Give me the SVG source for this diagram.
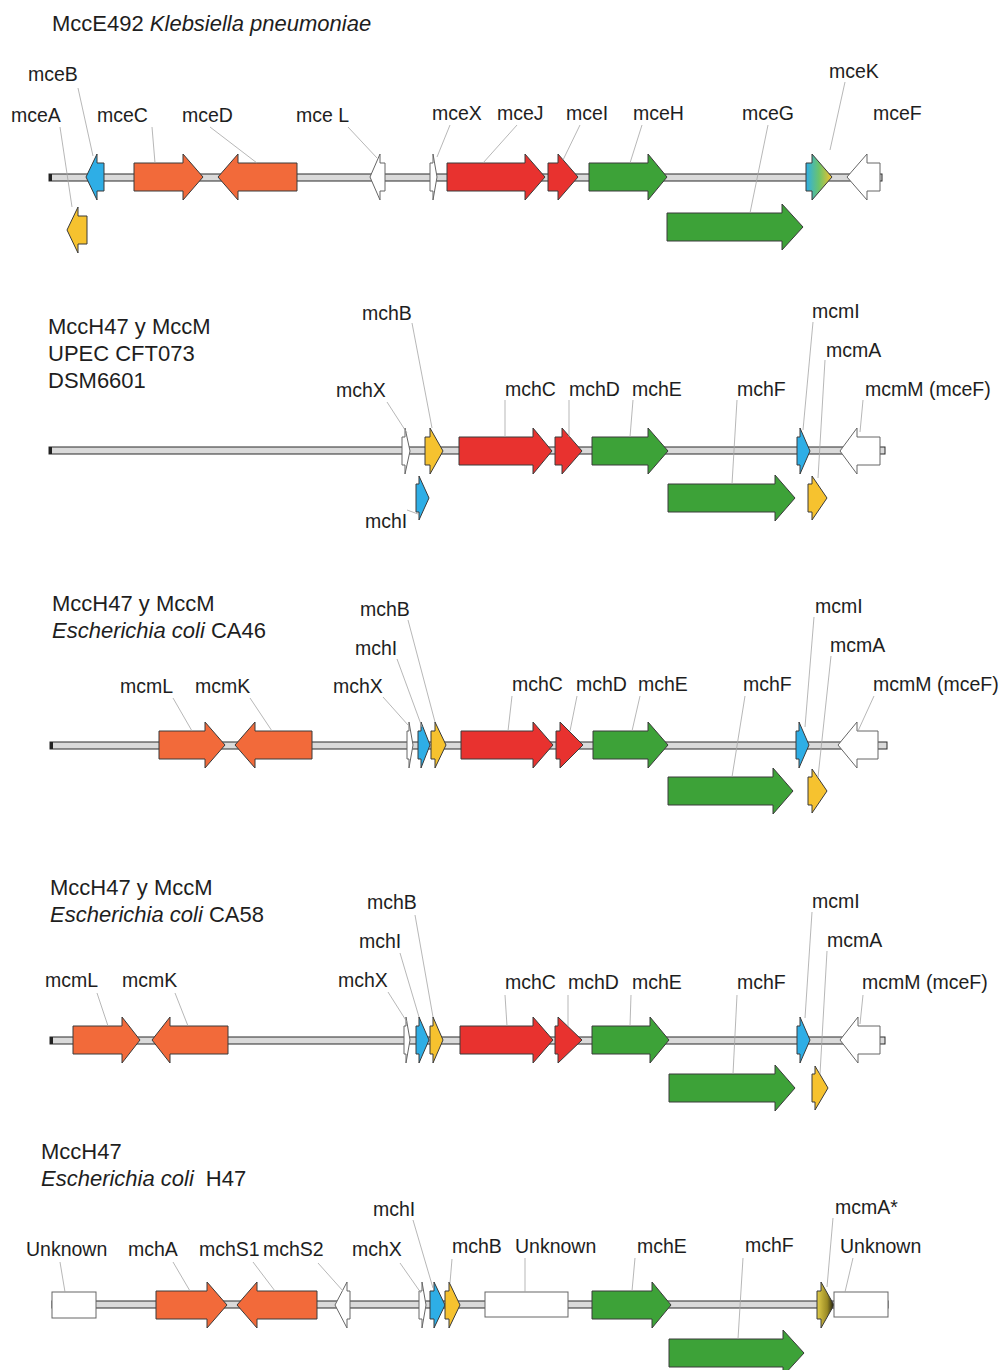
<svg xmlns="http://www.w3.org/2000/svg" width="1002" height="1370" viewBox="0 0 1002 1370">
<style>
text{font-family:"Liberation Sans",Arial,sans-serif;fill:#1e1e1e}
.t{font-size:22px}
.l{font-size:19.5px}
.bb{fill:#dadada;stroke:#2a2a2a;stroke-width:1}
.g{stroke:#3a3a3a;stroke-width:1;stroke-linejoin:miter}
.bl{fill:#2eaee6}.or{fill:#f26a3a}.rd{fill:#e8322f}.gr{fill:#3da238}.ye{fill:#f6c22f}.wh{fill:#fff;stroke:#666}
.ld{stroke:#a5a5a5;stroke-width:0.8;fill:none}
</style>
<defs>
<linearGradient id="gK" x1="0" y1="0" x2="1" y2="0"><stop offset="0" stop-color="#2eaee6"/><stop offset="0.5" stop-color="#6cc46a"/><stop offset="1" stop-color="#f4c02c"/></linearGradient>
<linearGradient id="gA" x1="0" y1="0" x2="1" y2="0"><stop offset="0" stop-color="#e0cc4a"/><stop offset="0.6" stop-color="#9a8a24"/><stop offset="1" stop-color="#1a1a10"/></linearGradient>
</defs>

<!-- Panel 1 -->
<g id="title1"><text class="t" x="52" y="31">MccE492 <tspan font-style="italic">Klebsiella pneumoniae</tspan></text></g>
<g id="backbone1"><rect class="bb" x="49" y="174" width="833" height="7"/><rect x="49" y="174" width="3" height="7" fill="#222"/></g>
<g id="mceB"><polygon class="g bl" points="104,163 97,163 97,154 86,177 97,200 97,191 104,191"/><text class="l" x="28" y="81">mceB</text></g>
<g id="mceA"><polygon class="g ye" points="87,216 78,216 78,207 67,230 78,253 78,244 87,244"/><text class="l" x="11" y="122">mceA</text></g>
<g id="mceC"><polygon class="g or" points="134,163 183,163 183,154 203,177 183,200 183,191 134,191"/><text class="l" x="97" y="122">mceC</text></g>
<g id="mceD"><polygon class="g or" points="297,163 238,163 238,154 218,177 238,200 238,191 297,191"/><text class="l" x="182" y="122">mceD</text></g>
<g id="mceL"><polygon class="g wh" points="385,163 380,163 380,154 370,177 380,200 380,191 385,191"/><text class="l" x="296" y="122">mce L</text></g>
<g id="mceX"><polygon class="g wh" points="430,163 433,163 433,154 437,177 433,200 433,191 430,191"/><text class="l" x="432" y="120">mceX</text></g>
<g id="mceJ"><polygon class="g rd" points="447,163 525,163 525,154 545,177 525,200 525,191 447,191"/><text class="l" x="497" y="120">mceJ</text></g>
<g id="mceI"><polygon class="g rd" points="548,163 558,163 558,154 578,177 558,200 558,191 548,191"/><text class="l" x="566" y="120">mceI</text></g>
<g id="mceH"><polygon class="g gr" points="589,163 648,163 648,154 667,177 648,200 648,191 589,191"/><text class="l" x="633" y="120">mceH</text></g>
<g id="mceG"><polygon class="g gr" points="667,213 782,213 782,204 803,227 782,250 782,241 667,241"/><text class="l" x="742" y="120">mceG</text></g>
<g id="mceK"><polygon class="g" fill="url(#gK)" points="806,163 812,163 812,154 832,177 812,200 812,191 806,191"/><text class="l" x="829" y="78">mceK</text></g>
<g id="mceF"><polygon class="g wh" points="880,163 867,163 867,154 847,177 867,200 867,191 880,191"/><text class="l" x="873" y="120">mceF</text></g>

<!-- Panel 2 -->
<g id="title2"><text class="t" x="48" y="334">MccH47 y MccM</text><text class="t" x="48" y="361">UPEC CFT073</text><text class="t" x="48" y="388">DSM6601</text></g>
<g id="backbone2"><rect class="bb" x="49" y="447" width="836" height="7"/><rect x="49" y="447" width="3" height="7" fill="#222"/></g>
<g id="p2_mchX"><polygon class="g wh" points="402,437 405,437 405,428 410,451 405,474 405,465 402,465"/><text class="l" x="336" y="397">mchX</text></g>
<g id="p2_mchB"><polygon class="g ye" points="425,437 430,437 430,428 443,451 430,474 430,465 425,465"/><text class="l" x="362" y="320">mchB</text></g>
<g id="p2_mchI"><polygon class="g bl" points="416,484 419,484 419,476 429,498 419,520 419,512 416,512"/><text class="l" x="365" y="528">mchI</text></g>
<g id="p2_mchC"><polygon class="g rd" points="459,437 533,437 533,428 552,451 533,474 533,465 459,465"/><text class="l" x="505" y="396">mchC</text></g>
<g id="p2_mchD"><polygon class="g rd" points="555,437 562,437 562,428 582,451 562,474 562,465 555,465"/><text class="l" x="569" y="396">mchD</text></g>
<g id="p2_mchE"><polygon class="g gr" points="592,437 648,437 648,428 668,451 648,474 648,465 592,465"/><text class="l" x="632" y="396">mchE</text></g>
<g id="p2_mchF"><polygon class="g gr" points="668,484 775,484 775,475 795,498 775,521 775,512 668,512"/><text class="l" x="737" y="396">mchF</text></g>
<g id="p2_mcmI"><polygon class="g bl" points="797,437 800,437 800,428 810,451 800,474 800,465 797,465"/><text class="l" x="812" y="318">mcmI</text></g>
<g id="p2_mcmA"><polygon class="g ye" points="808,484 812,484 812,476 827,498 812,520 812,512 808,512"/><text class="l" x="826" y="357">mcmA</text></g>
<g id="p2_mcmM"><polygon class="g wh" points="880,437 857,437 857,428 840,451 857,474 857,465 880,465"/><text class="l" x="865" y="396">mcmM (mceF)</text></g>

<!-- Panel 3 -->
<g id="title3"><text class="t" x="52" y="611">MccH47 y MccM</text><text class="t" x="52" y="638"><tspan font-style="italic">Escherichia coli</tspan> CA46</text></g>
<g id="backbone3"><rect class="bb" x="50" y="742" width="837" height="7"/><rect x="50" y="742" width="3" height="7" fill="#222"/></g>
<g id="p3_mcmL"><polygon class="g or" points="159,731 205,731 205,722 225,745 205,768 205,759 159,759"/><text class="l" x="120" y="693">mcmL</text></g>
<g id="p3_mcmK"><polygon class="g or" points="312,731 255,731 255,722 235,745 255,768 255,759 312,759"/><text class="l" x="195" y="693">mcmK</text></g>
<g id="p3_mchX"><polygon class="g wh" points="407,731 409,731 409,722 413,745 409,768 409,759 407,759"/><text class="l" x="333" y="693">mchX</text></g>
<g id="p3_mchI"><polygon class="g bl" points="418,731 421,731 421,722 430,745 421,768 421,759 418,759"/><text class="l" x="355" y="655">mchI</text></g>
<g id="p3_mchB"><polygon class="g ye" points="431,731 435,731 435,722 446,745 435,768 435,759 431,759"/><text class="l" x="360" y="616">mchB</text></g>
<g id="p3_mchC"><polygon class="g rd" points="461,731 533,731 533,722 553,745 533,768 533,759 461,759"/><text class="l" x="512" y="691">mchC</text></g>
<g id="p3_mchD"><polygon class="g rd" points="556,731 560,731 560,722 583,745 560,768 560,759 556,759"/><text class="l" x="576" y="691">mchD</text></g>
<g id="p3_mchE"><polygon class="g gr" points="593,731 648,731 648,722 668,745 648,768 648,759 593,759"/><text class="l" x="638" y="691">mchE</text></g>
<g id="p3_mchF"><polygon class="g gr" points="668,777 773,777 773,768 793,791 773,814 773,805 668,805"/><text class="l" x="743" y="691">mchF</text></g>
<g id="p3_mcmI"><polygon class="g bl" points="796,731 799,731 799,722 809,745 799,768 799,759 796,759"/><text class="l" x="815" y="613">mcmI</text></g>
<g id="p3_mcmA"><polygon class="g ye" points="808,777 812,777 812,769 827,791 812,813 812,805 808,805"/><text class="l" x="830" y="652">mcmA</text></g>
<g id="p3_mcmM"><polygon class="g wh" points="878,731 857,731 857,722 838,745 857,768 857,759 878,759"/><text class="l" x="873" y="691">mcmM (mceF)</text></g>

<!-- Panel 4 -->
<g id="title4"><text class="t" x="50" y="895">MccH47 y MccM</text><text class="t" x="50" y="922"><tspan font-style="italic">Escherichia coli</tspan> CA58</text></g>
<g id="backbone4"><rect class="bb" x="50" y="1037" width="835" height="7"/><rect x="50" y="1037" width="3" height="7" fill="#222"/></g>
<g id="p4_mcmL"><polygon class="g or" points="73,1026 122,1026 122,1017 140,1040 122,1063 122,1054 73,1054"/><text class="l" x="45" y="987">mcmL</text></g>
<g id="p4_mcmK"><polygon class="g or" points="228,1026 170,1026 170,1017 152,1040 170,1063 170,1054 228,1054"/><text class="l" x="122" y="987">mcmK</text></g>
<g id="p4_mchX"><polygon class="g wh" points="404,1026 406,1026 406,1017 410,1040 406,1063 406,1054 404,1054"/><text class="l" x="338" y="987">mchX</text></g>
<g id="p4_mchI"><polygon class="g bl" points="416,1026 419,1026 419,1017 429,1040 419,1063 419,1054 416,1054"/><text class="l" x="359" y="948">mchI</text></g>
<g id="p4_mchB"><polygon class="g ye" points="430,1026 433,1026 433,1017 443,1040 433,1063 433,1054 430,1054"/><text class="l" x="367" y="909">mchB</text></g>
<g id="p4_mchC"><polygon class="g rd" points="460,1026 533,1026 533,1017 553,1040 533,1063 533,1054 460,1054"/><text class="l" x="505" y="989">mchC</text></g>
<g id="p4_mchD"><polygon class="g rd" points="555,1026 558,1026 558,1017 582,1040 558,1063 558,1054 555,1054"/><text class="l" x="568" y="989">mchD</text></g>
<g id="p4_mchE"><polygon class="g gr" points="592,1026 650,1026 650,1017 669,1040 650,1063 650,1054 592,1054"/><text class="l" x="632" y="989">mchE</text></g>
<g id="p4_mchF"><polygon class="g gr" points="669,1074 775,1074 775,1065 795,1088 775,1111 775,1102 669,1102"/><text class="l" x="737" y="989">mchF</text></g>
<g id="p4_mcmI"><polygon class="g bl" points="797,1026 800,1026 800,1017 810,1040 800,1063 800,1054 797,1054"/><text class="l" x="812" y="908">mcmI</text></g>
<g id="p4_mcmA"><polygon class="g ye" points="812,1074 815,1074 815,1066 828,1088 815,1110 815,1102 812,1102"/><text class="l" x="827" y="947">mcmA</text></g>
<g id="p4_mcmM"><polygon class="g wh" points="880,1026 858,1026 858,1017 840,1040 858,1063 858,1054 880,1054"/><text class="l" x="862" y="989">mcmM (mceF)</text></g>

<!-- Panel 5 -->
<g id="title5"><text class="t" x="41" y="1159">MccH47</text><text class="t" x="41" y="1186"><tspan font-style="italic">Escherichia coli</tspan><tspan dx="12">H47</tspan></text></g>
<g id="backbone5"><rect class="bb" x="52" y="1301" width="836" height="7"/></g>
<g id="p5_unk1"><rect class="g wh" x="52" y="1292" width="44" height="26"/><text class="l" x="26" y="1256">Unknown</text></g>
<g id="p5_mchA"><polygon class="g or" points="156,1291 207,1291 207,1282 227,1305 207,1328 207,1319 156,1319"/><text class="l" x="128" y="1256">mchA</text></g>
<g id="p5_mchS"><polygon class="g or" points="317,1291 257,1291 257,1282 237,1305 257,1328 257,1319 317,1319"/><text class="l" x="199" y="1256">mchS1</text><text class="l" x="263" y="1256">mchS2</text></g>
<g id="p5_white"><polygon class="g wh" points="350,1291 347,1291 347,1282 335,1305 347,1328 347,1319 350,1319"/></g>
<g id="p5_mchX"><polygon class="g wh" points="419,1291 422,1291 422,1282 426,1305 422,1328 422,1319 419,1319"/><text class="l" x="352" y="1256">mchX</text></g>
<g id="p5_mchI"><polygon class="g bl" points="430,1291 434,1291 434,1282 445,1305 434,1328 434,1319 430,1319"/><text class="l" x="373" y="1216">mchI</text></g>
<g id="p5_mchB"><polygon class="g ye" points="445,1291 449,1291 449,1282 460,1305 449,1328 449,1319 445,1319"/><text class="l" x="452" y="1253">mchB</text></g>
<g id="p5_unk2"><rect class="g wh" x="485" y="1292" width="83" height="25"/><text class="l" x="515" y="1253">Unknown</text></g>
<g id="p5_mchE"><polygon class="g gr" points="592,1291 652,1291 652,1282 671,1305 652,1328 652,1319 592,1319"/><text class="l" x="637" y="1253">mchE</text></g>
<g id="p5_mchF"><polygon class="g gr" points="669,1339 783,1339 783,1330 804,1353 783,1376 783,1367 669,1367"/><text class="l" x="745" y="1252">mchF</text></g>
<g id="p5_mcmA"><polygon class="g" fill="url(#gA)" points="817,1291 821,1291 821,1282 834,1305 821,1328 821,1319 817,1319"/><text class="l" x="835" y="1214">mcmA*</text></g>
<g id="p5_unk3"><rect class="g wh" x="834" y="1292" width="54" height="25"/><text class="l" x="840" y="1253">Unknown</text></g>

<!-- connectors (leader lines) -->
<g id="connectors" class="ld">
<path d="M78,88L93,156M60,127L72,207M152,127L155,163M210,127L257,163M348,127L377,158M450,125L437,157M517,125L483,163M580,125L563,160M642,125L630,163M768,125L750,213M845,82L830,150"/>
<path d="M412,323L432,428M387,402L407,433M407,510L418,514M505,400L505,437M569,400L569,437M633,400L630,437M737,400L732,484M813,322L803,430M825,360L818,478M863,400L860,432"/>
<path d="M173,698L192,731M250,698L272,731M383,697L408,725M397,659L422,727M408,620L435,722M512,696L508,731M577,696L570,731M640,696L632,731M745,696L732,777M814,617L805,727M831,656L818,777M874,696L858,731"/>
<path d="M97,993L108,1026M175,993L188,1026M388,992L407,1022M400,953L419,1017M415,915L433,1017M505,995L507,1026M568,995L568,1026M631,995L630,1026M737,995L733,1074M812,912L805,1018M827,951L820,1074M863,995L860,1024"/>
<path d="M60,1262L65,1292M173,1262L190,1291M253,1262L275,1291M318,1263L343,1291M400,1263L421,1293M413,1220L433,1288M452,1259L450,1283M525,1258L525,1292M635,1258L632,1291M743,1258L738,1339M833,1218L827,1287M853,1258L845,1292"/>
</g>
</svg>
